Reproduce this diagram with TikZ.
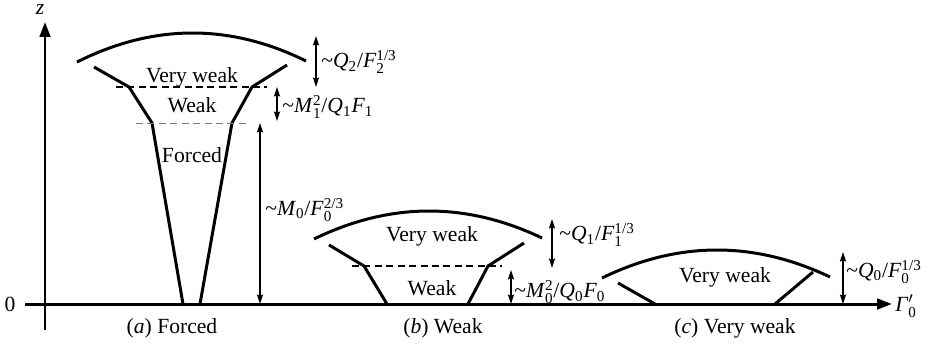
\documentclass[tikz,border=0pt]{standalone}
\usepackage{amsmath}
\usepackage{fontspec}
\setmainfont{Liberation Serif}
\usepackage{tikz}
\usetikzlibrary{arrows.meta}
\definecolor{dashgray}{HTML}{7A7A7A}
\newcommand{\sbs}[2]{\ensuremath{^{\text{#1}}_{\text{#2}}}}
\newcommand{\sbo}[1]{\ensuremath{_{\text{#1}}}}

\begin{document}
\begin{tikzpicture}[x=0.02cm,y=0.02cm,font=\fontsize{12.3}{14}\selectfont,
    wall/.style={line width=1.7pt},
    axis/.style={line width=1.7pt,-{Triangle[length=8.5pt,width=6pt]}},
    dim/.style={line width=0.6pt,{Stealth[length=5.5pt,width=3.6pt,inset=1pt]}-{Stealth[length=5.5pt,width=3.6pt,inset=1pt]}},
    lbl/.style={anchor=west,inner sep=0pt}]
  \useasboundingbox (0,-39) rectangle (927,304);

  % axes
  \coordinate (zbot) at (45,-26);
  \coordinate (ztop) at (45,282);
  \coordinate (xl) at (25,0);
  \coordinate (xr) at (892,0);
  \draw[axis] (zbot) -- (ztop);
  \draw[axis] (xl) -- (xr);
  \node (zlab) at (40,294) {\textit{z}};
  \node (zero) at (10,0) {0};
  \node[anchor=west,inner sep=0pt] (gam) at (895,-2) {\textit{Γ}$'_{\text{0}}$};

  % (a) forced
  \draw[wall] (77,242) .. controls (153.3,280.3) and (229.7,280.7) .. (306,243);
  \draw[wall] (94,237) -- (129,217) -- (152,181) -- (183,0);
  \draw[wall] (287,239) -- (252,217) -- (232,181) -- (200,0);
  \draw[line width=0.8pt,dash pattern=on 4pt off 2.5pt] (116,217) -- (267,217);
  \draw[dashgray,line width=0.5pt,dash pattern=on 4pt off 2.5pt] (136,181) -- (248,181);
  \node (avw) at (192,227) {Very weak};
  \node (awk) at (192,199) {Weak};
  \node (afc) at (192,149) {Forced};
  \coordinate (m0t) at (260,181);
  \coordinate (m0b) at (260,0);
  \draw[dim] (m0t) -- (m0b);
  \node[lbl] (m0lab) at (265,94) {\textasciitilde\textit{M}\sbo{0}/\textit{F}\sbs{2/3}{0}};
  \coordinate (m1t) at (277,217);
  \coordinate (m1b) at (277,183);
  \draw[dim] (m1t) -- (m1b);
  \node[lbl] (m1lab) at (282,197) {\textasciitilde\textit{M}\sbs{2}{1}/\textit{Q}\sbo{1}\textit{F}\sbo{1}};
  \coordinate (q2t) at (316,268);
  \coordinate (q2b) at (316,217);
  \draw[dim] (q2t) -- (q2b);
  \node[lbl] (q2lab) at (321,242) {\textasciitilde\textit{Q}\sbo{2}/\textit{F}\sbs{1/3}{2}};
  \node (capa) at (172,-24) {(\textit{a}) Forced};

  % (b) weak
  \draw[wall] (314,65) .. controls (390,102) and (466,102.3) .. (542,66);
  \draw[wall] (329,59) -- (364,38) -- (387,0);
  \draw[wall] (524,61) -- (488,38) -- (468,0);
  \draw[line width=0.6pt,dash pattern=on 4pt off 2.5pt] (352,38) -- (502,38);
  \node (bvw) at (432,68) {Very weak};
  \node (bwk) at (432,16) {Weak};
  \coordinate (q1t) at (552,85);
  \coordinate (q1b) at (552,36);
  \draw[dim] (q1t) -- (q1b);
  \node[lbl] (q1lab) at (559,69) {\textasciitilde\textit{Q}\sbo{1}/\textit{F}\sbs{1/3}{1}};
  \coordinate (m2t) at (511,34);
  \coordinate (m2b) at (511,0);
  \draw[dim] (m2t) -- (m2b);
  \node[lbl] (m2lab) at (514,12) {\textasciitilde\textit{M}\sbs{2}{0}/\textit{Q}\sbo{0}\textit{F}\sbo{0}};
  \node (capb) at (443,-24) {(\textit{b}) Weak};

  % (c) very weak
  \draw[wall] (602,26) .. controls (678,63) and (754,63.3) .. (830,27);
  \draw[wall] (618,21) -- (655,0);
  \draw[wall] (813,32) -- (775,0);
  \node (cvw) at (725,27) {Very weak};
  \coordinate (q0t) at (843,52);
  \coordinate (q0b) at (843,0);
  \draw[dim] (q0t) -- (q0b);
  \node[lbl] (q0lab) at (846,32) {\textasciitilde\textit{Q}\sbo{0}/\textit{F}\sbs{1/3}{0}};
  \node (capc) at (735,-24) {(\textit{c}) Very weak};
\end{tikzpicture}
\end{document}
